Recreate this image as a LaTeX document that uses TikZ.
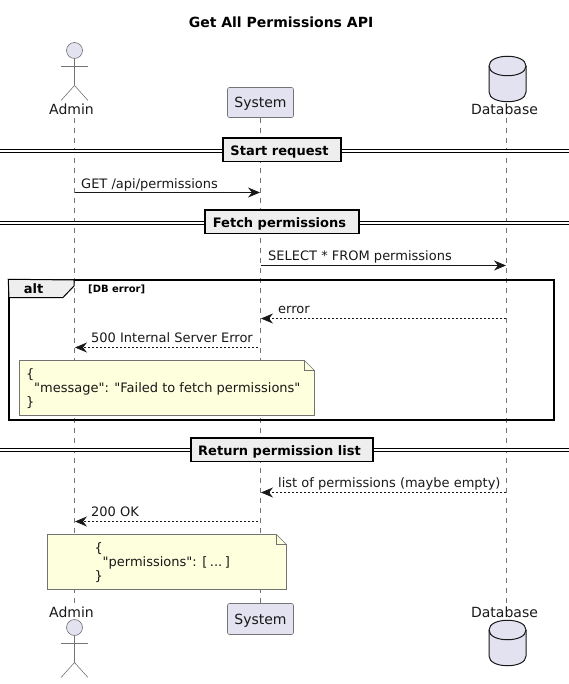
\documentclass[tikz,border=0pt]{standalone}
\usepackage{fontspec}
\setmainfont{DejaVu Sans}
\newfontfamily\notefont{DejaVu Sans}
\usepackage{xcolor}
\usetikzlibrary{arrows.meta, positioning, calc}
\definecolor{partfill}{RGB}{226, 226, 240}
\definecolor{partline}{RGB}{24, 24, 24}
\definecolor{notefill}{RGB}{254, 255, 221}
\definecolor{divfill}{RGB}{238, 238, 238}
\tikzset{
    lifeline/.style={draw=gray!90!black, line width=0.6pt, dash pattern=on 5pt off 5pt},
    figline/.style={draw=partline!60, line width=0.6pt},
    dbshape/.style={draw=partline, fill=partfill, line width=1pt},
    partlabel/.style={anchor=base, inner sep=0pt, font=\fontsize{14}{16}\selectfont, text=partline},
    partbox/.style={draw=partline!60, fill=partfill, line width=0.6pt, rounded corners=2pt, minimum width=66pt,
        inner sep=0pt, text height=10.5pt, text depth=0pt, font=\fontsize{14}{16}\selectfont, text=partline},
    syncmsg/.style={draw=partline, line width=0.8pt, -{Stealth[length=12pt, width=10pt, inset=4pt]}},
    replymsg/.style={draw=partline, line width=0.7pt, dash pattern=on 2pt off 2pt, -{Stealth[length=12pt, width=10pt, inset=4pt]}},
    msglabel/.style={anchor=base west, inner sep=0pt, font=\fontsize{13}{15}\selectfont, text=partline},
    notebox/.style={draw=gray!90!black, fill=notefill, line width=0.7pt},
    notetext/.style={anchor=north west, inner sep=0pt, align=left, text=partline, font=\fontsize{13}{14}\notefont\selectfont},
    divline/.style={draw=black, line width=1pt, double=white, double distance=1.2pt},
    divbox/.style={draw=black, fill=divfill, line width=1.5pt, inner sep=0pt, minimum height=23.5pt,
        text height=11pt, text depth=0pt, font=\fontsize{13}{15}\selectfont\bfseries},
}
\begin{document}
\begin{tikzpicture}[x=1pt, y=-1pt]
    \useasboundingbox (0,0) rectangle (569,684);
    \node[anchor=base, inner sep=0pt, font=\fontsize{14}{16}\selectfont\bfseries] (title) at (281,28) {Get All Permissions API};

    % Participants on top
    \node[partlabel] (adminTop) at (71.5,115) {Admin};
    \node[partbox, minimum height=30pt] (systemTop) at (260.5,102.5) {System};
    \node[partlabel] (dbTop) at (504.5,115) {Database};

    % Participants at the bottom
    \node[partlabel] (adminBot) at (71.5,617) {Admin};
    \node[partbox, minimum height=31pt] (systemBot) at (260.5,619) {System};
    \node[partlabel] (dbBot) at (504.5,617) {Database};

    % Lifelines
    \coordinate (adminA) at (74.5,118);
    \coordinate (adminB) at (74.5,603);
    \coordinate (dbA) at (506.5,118);
    \coordinate (dbB) at (506.5,604);
    \draw[lifeline] (adminA) -- (adminB);
    \draw[lifeline] (systemTop) -- (systemBot);
    \draw[lifeline] (dbA) -- (dbB);

    % Actors
    \foreach \ay in {0,577} {
        \draw[figline, fill=partfill] (74.5,50.5+\ay) circle (8);
        \draw[figline] (74.5,58.5+\ay) -- (74.5,85.5+\ay);
        \draw[figline] (61,66.5+\ay) -- (88,66.5+\ay);
        \draw[figline] (61,100.5+\ay) -- (74.5,85.5+\ay) -- (88,100.5+\ay);
    }

    % Databases
    \foreach \dy in {0,564} {
        \draw[dbshape] (489,66+\dy) .. controls (489,53+\dy) and (526,53+\dy) .. (526,66+\dy)
            -- (526,92+\dy) .. controls (526,105+\dy) and (489,105+\dy) .. (489,92+\dy) -- cycle;
        \draw[dbshape, fill=none] (489,66+\dy) .. controls (489,79+\dy) and (526,79+\dy) .. (526,66+\dy);
    }

    % Dividers
    \coordinate (startL) at (0,151);
    \coordinate (startR) at (569,151);
    \draw[divline] (startL) -- (startR);
    \node[divbox, minimum width=118pt] (startBox) at (282,150) {Start request\hspace*{5pt}};
    \coordinate (fetchL) at (0,223);
    \coordinate (fetchR) at (569,223);
    \draw[divline] (fetchL) -- (fetchR);
    \node[divbox, minimum width=154pt] (fetchBox) at (282,222) {Fetch permissions\hspace*{5pt}};
    \coordinate (returnL) at (0,450);
    \coordinate (returnR) at (569,450);
    \draw[divline] (returnL) -- (returnR);
    \node[divbox, minimum width=182pt] (returnBox) at (282,449.5) {Return permission list\hspace*{5pt}};

    % Messages
    \coordinate (getA) at (74.5,192.5);
    \coordinate (getS) at (260,192.5);
    \draw[syncmsg] (getA) -- (getS);
    \node[msglabel] (getLabel) at (81,188.5) {GET /api/permissions};
    \coordinate (selS) at (260.5,265.5);
    \coordinate (selD) at (506,265.5);
    \draw[syncmsg] (selS) -- (selD);
    \node[msglabel] (selLabel) at (268,260.5) {SELECT * FROM permissions};

    % alt frame
    \node[draw=black, line width=1.5pt, minimum width=545pt, minimum height=140pt, inner sep=0pt] (altFrame) at (281.5,350) {};
    \draw[draw=black, fill=divfill, line width=1pt] (altFrame.north west) -- (74,280) -- (74,286) -- (63,297.5) -- (9,297.5) -- cycle;
    \node[anchor=base, inner sep=0pt, font=\fontsize{13}{15}\selectfont\bfseries] (altLabel) at (33.5,293) {alt};
    \node[anchor=base west, inner sep=0pt, font=\fontsize{10}{12}\selectfont\bfseries] (altGuard) at (88,292) {[DB error]};

    \coordinate (errD) at (506,318.5);
    \coordinate (errS) at (261,318.5);
    \draw[replymsg] (errD) -- (errS);
    \node[msglabel] (errLabel) at (278,313.5) {error};
    \coordinate (failS) at (258,347.5);
    \coordinate (failA) at (75,347.5);
    \draw[replymsg] (failS) -- (failA);
    \node[msglabel] (failLabel) at (91,342.5) {500 Internal Server Error};

    % Note on the error
    \draw[notebox] (19.5,360.5) -- (304.5,360.5) -- (314.5,370.5) -- (314.5,415.5) -- (19.5,415.5) -- cycle;
    \draw[notebox, fill=none] (304.5,360.5) -- (304.5,370.5) -- (314.5,370.5);
    \node[notetext] (errNote) at (26,368.5) {\{\\\hspace*{8pt}"message": "Failed to fetch permissions"\\\}};

    % Final replies
    \coordinate (listD) at (506,492.5);
    \coordinate (listS) at (261,492.5);
    \draw[replymsg] (listD) -- (listS);
    \node[msglabel] (listLabel) at (278,487.5) {list of permissions (maybe empty)};
    \coordinate (okS) at (258,521.5);
    \coordinate (okA) at (75,521.5);
    \draw[replymsg] (okS) -- (okA);
    \node[msglabel] (okLabel) at (91,516) {200 OK};

    % Note on the result
    \draw[notebox] (47.5,534.5) -- (276.5,534.5) -- (286.5,544.5) -- (286.5,589.5) -- (47.5,589.5) -- cycle;
    \draw[notebox, fill=none] (276.5,534.5) -- (276.5,544.5) -- (286.5,544.5);
    \node[notetext] (okNote) at (94.5,542.5) {\{\\\hspace*{8pt}"permissions": [\hspace*{2.5pt}...\hspace*{2.5pt}]\\\}};
\end{tikzpicture}
\end{document}
